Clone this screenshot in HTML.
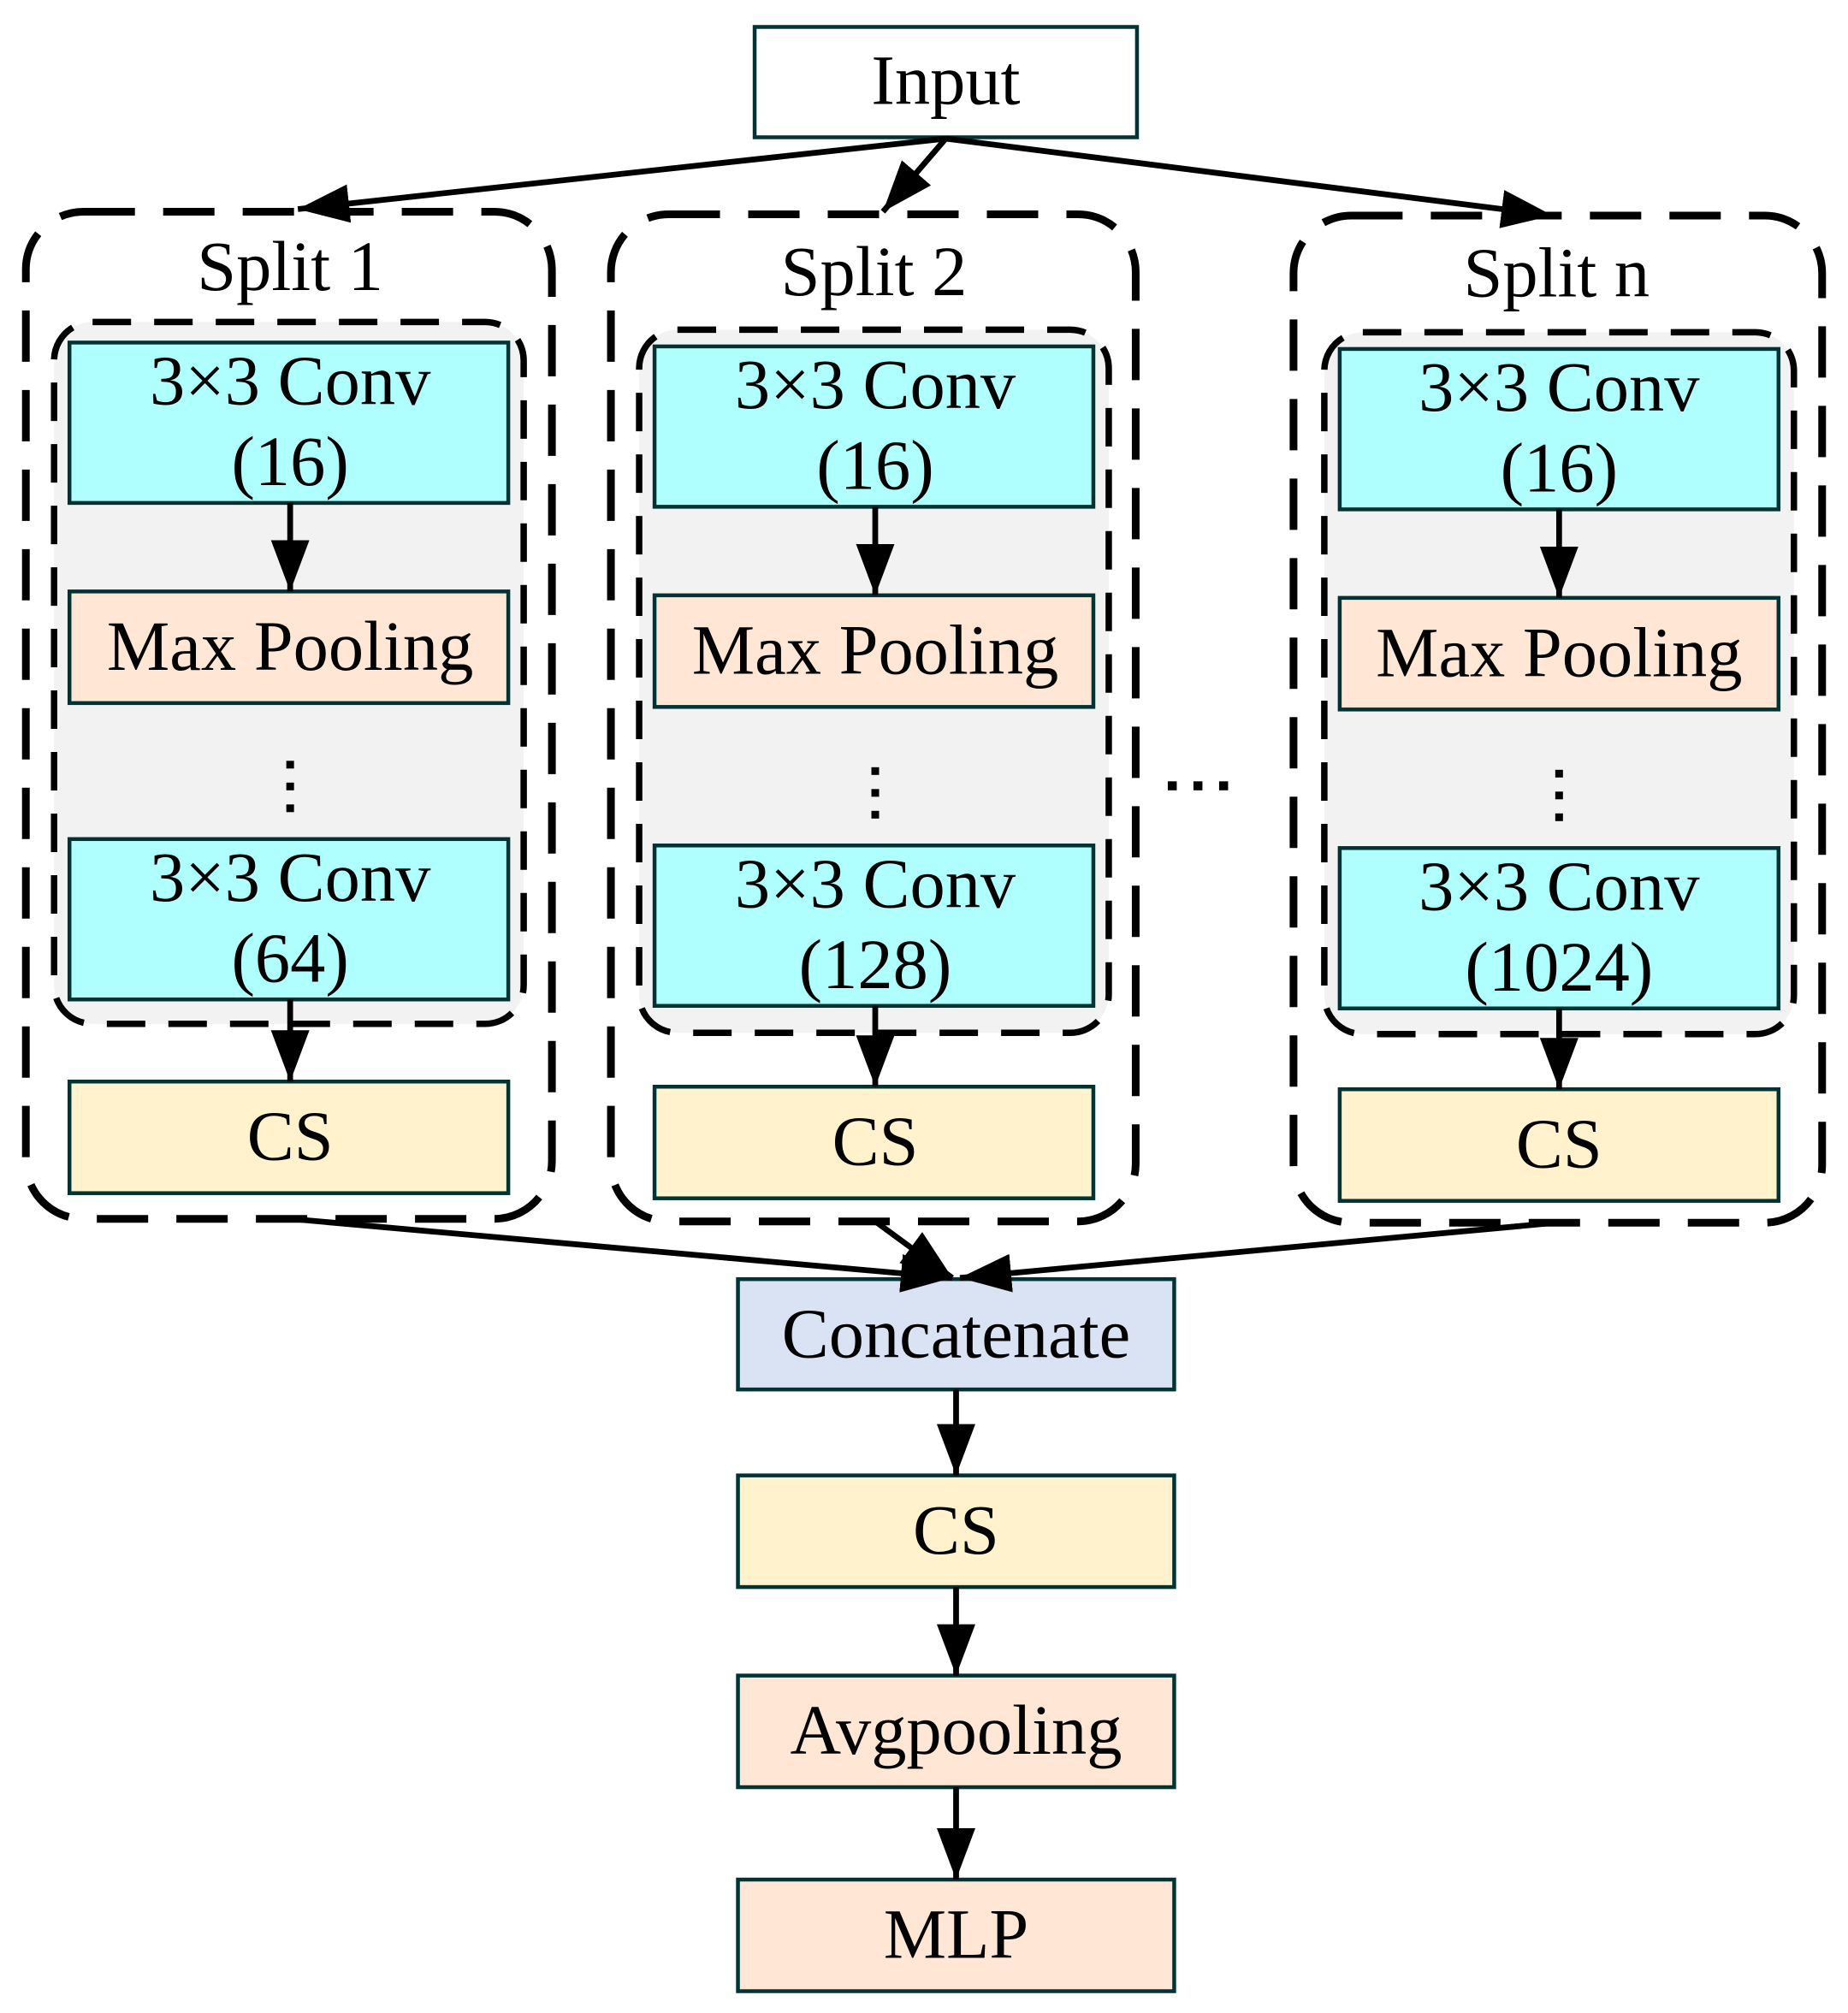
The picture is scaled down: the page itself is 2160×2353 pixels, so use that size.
<!DOCTYPE html>
<html><head><meta charset="utf-8"><style>html,body{margin:0;padding:0;background:#fff}svg{display:block}</style></head>
<body>
<svg width="2160" height="2353" viewBox="0 0 1440 1569" xmlns="http://www.w3.org/2000/svg" font-family="'Liberation Serif', serif" font-size="55" text-anchor="middle">
<defs>
<marker id="b" viewBox="0 0 40 30" refX="40" refY="15" markerWidth="40" markerHeight="30" orient="auto" markerUnits="userSpaceOnUse">
<path d="M0,0 L40,15 L0,30 Z" fill="#000"/>
</marker>
</defs>
<rect width="1440" height="1569" fill="#fff"/>
<rect x="588" y="21" width="298" height="86" fill="#fff" stroke="#033" stroke-width="3"/>
<text x="737" y="81">Input</text>

<g fill="none" stroke="#000" stroke-width="6" stroke-dasharray="40 22">
<rect x="20" y="165" width="410" height="785" rx="45"/>
<rect x="476" y="167" width="409" height="785" rx="45"/>
<rect x="1008" y="168" width="412" height="785" rx="45"/>
</g>
<g fill="#f2f2f2" stroke="#000" stroke-width="5" stroke-dasharray="30 18">
<rect x="42" y="251" width="366" height="547" rx="30"/>
<rect x="498" y="257" width="366" height="548" rx="30"/>
<rect x="1032" y="259" width="366" height="547" rx="30"/>
</g>
<text x="226" y="226">Split 1</text>
<text x="681" y="230">Split 2</text>
<text x="1213" y="231">Split n</text>

<g stroke="#033" stroke-width="3">
<rect x="54" y="267" width="342" height="125" fill="#b0ffff"/>
<rect x="54" y="461" width="342" height="87" fill="#ffe6d5"/>
<rect x="54" y="654" width="342" height="125" fill="#b0ffff"/>
<rect x="54" y="843" width="342" height="87" fill="#fff2cc"/>
<rect x="510" y="270" width="342" height="125" fill="#b0ffff"/>
<rect x="510" y="464" width="342" height="87" fill="#ffe6d5"/>
<rect x="510" y="659" width="342" height="125" fill="#b0ffff"/>
<rect x="510" y="847" width="342" height="87" fill="#fff2cc"/>
<rect x="1044" y="272" width="342" height="125" fill="#b0ffff"/>
<rect x="1044" y="466" width="342" height="87" fill="#ffe6d5"/>
<rect x="1044" y="661" width="342" height="125" fill="#b0ffff"/>
<rect x="1044" y="849" width="342" height="87" fill="#fff2cc"/>
<rect x="575" y="997" width="340" height="86" fill="#dae3f3"/>
<rect x="575" y="1150" width="340" height="87" fill="#fff2cc"/>
<rect x="575" y="1306" width="340" height="87" fill="#ffe6d5"/>
<rect x="575" y="1465" width="340" height="87" fill="#ffe6d5"/>
</g>

<g>
<text x="226" y="315">3×3 Conv</text><text x="226" y="378">(16)</text>
<text x="226" y="522">Max Pooling</text>
<text x="226" y="702">3×3 Conv</text><text x="226" y="765">(64)</text>
<text x="226" y="904">CS</text>
<text x="682" y="318">3×3 Conv</text><text x="682" y="381">(16)</text>
<text x="682" y="525">Max Pooling</text>
<text x="682" y="707">3×3 Conv</text><text x="682" y="770">(128)</text>
<text x="682" y="908">CS</text>
<text x="1215" y="320">3×3 Conv</text><text x="1215" y="383">(16)</text>
<text x="1215" y="527">Max Pooling</text>
<text x="1215" y="709">3×3 Conv</text><text x="1215" y="772">(1024)</text>
<text x="1215" y="910">CS</text>
<text x="745" y="1058">Concatenate</text>
<text x="745" y="1211">CS</text>
<text x="745" y="1367">Avgpooling</text>
<text x="745" y="1526">MLP</text>
</g>
<g fill="#000">
<rect x="223" y="593" width="6" height="6"/><rect x="223" y="610" width="6" height="6"/><rect x="223" y="627" width="6" height="6"/>
<rect x="679" y="598" width="6" height="6"/><rect x="679" y="615" width="6" height="6"/><rect x="679" y="632" width="6" height="6"/>
<rect x="1212" y="600" width="6" height="6"/><rect x="1212" y="617" width="6" height="6"/><rect x="1212" y="634" width="6" height="6"/>
<rect x="910" y="609" width="7" height="7"/><rect x="930" y="609" width="7" height="7"/><rect x="950" y="609" width="7" height="7"/>
</g>

<g stroke="#000" stroke-width="4.5" fill="none" marker-end="url(#b)">
<line x1="737" y1="108" x2="232" y2="163"/>
<line x1="737" y1="108" x2="688" y2="165"/>
<line x1="737" y1="108" x2="1210" y2="168"/>
<line x1="226" y1="392" x2="226" y2="461"/>
<line x1="226" y1="779" x2="226" y2="843"/>
<line x1="682" y1="395" x2="682" y2="464"/>
<line x1="682" y1="784" x2="682" y2="847"/>
<line x1="1215" y1="397" x2="1215" y2="466"/>
<line x1="1215" y1="786" x2="1215" y2="849"/>
<line x1="226" y1="950" x2="742" y2="996"/>
<line x1="682" y1="952" x2="742" y2="996"/>
<line x1="1213" y1="953" x2="748" y2="996"/>
<line x1="745" y1="1083" x2="745" y2="1150"/>
<line x1="745" y1="1237" x2="745" y2="1306"/>
<line x1="745" y1="1393" x2="745" y2="1465"/>
</g>
</svg>
</body></html>
